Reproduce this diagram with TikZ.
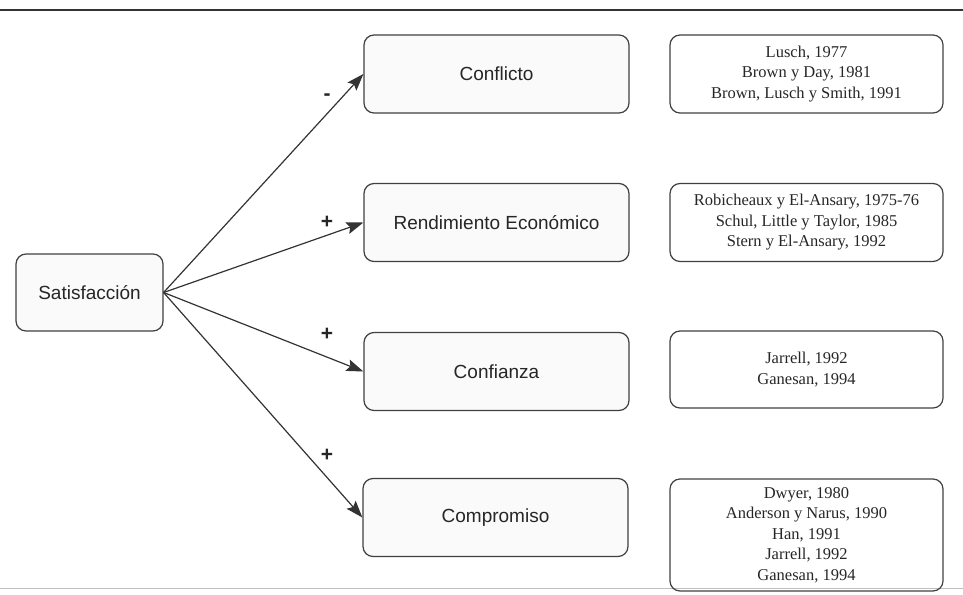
\documentclass[tikz,border=0pt]{standalone}
\usepackage{fontspec}
\setmainfont{Liberation Serif}
\setsansfont{Liberation Sans}
\usetikzlibrary{arrows.meta,positioning}

\begin{document}
\begin{tikzpicture}[x=1pt,y=-1pt,->,>={Stealth[length=17pt,width=12pt,inset=3pt]}]
  \tikzstyle{concept}=[draw=black!75,line width=1.2pt,rounded corners=10pt,fill=blue!1!black!2,text=black!85,minimum width=265pt,minimum height=78pt,font=\sffamily\fontsize{19}{22}\selectfont]
  \tikzstyle{refs}=[draw=black!75,line width=1.2pt,rounded corners=10pt,text=black!85,align=center,minimum width=273pt,minimum height=78pt,font=\fontsize{16.5}{20.5}\selectfont]
  \tikzstyle{sign}=[text=black!85,font=\sffamily\bfseries\fontsize{21}{22}\selectfont]
  \useasboundingbox (0,0) rectangle (963,594);
  \draw[-,line width=2.6pt,black!80] (0,10) -- (963,10);
  \draw[-,line width=0.8pt,black!25] (0,588) -- (963,588);
  % source
  \node[concept,minimum width=147pt,minimum height=77pt] (sat) at (89.5,292.5) {Satisfacción};
  % effects
  \node[concept] (conf) at (496.5,74) {Conflicto};
  \node[concept] (rend) at (496.5,222.5) {Rendimiento Económico};
  \node[concept] (trust) at (496.5,371.5) {Confianza};
  \node[concept] (comp) at (495.5,517.5) {Compromiso};
  % references
  \node[refs] (rconf) at (806.5,74) {Lusch, 1977\\Brown y Day, 1981\\Brown, Lusch y Smith, 1991};
  \node[refs] (rrend) at (806.5,222.5) {Robicheaux y El-Ansary, 1975-76\\Schul, Little y Taylor, 1985\\Stern y El-Ansary, 1992};
  \node[refs,minimum height=77pt] (rtrust) at (806.5,369.5) {Jarrell, 1992\\Ganesan, 1994};
  \node[refs,minimum height=112pt] (rcomp) at (806.5,535) {Dwyer, 1980\\Anderson y Narus, 1990\\Han, 1991\\Jarrell, 1992\\Ganesan, 1994};
  % links
  \draw[line width=1.2pt,black!80] (sat.east) -- (conf.west);
  \draw[line width=1.2pt,black!80] (sat.east) -- (rend.west);
  \draw[line width=1.2pt,black!80] (sat.east) -- (trust.west);
  \draw[line width=1.2pt,black!80] (sat.east) -- (comp.west);
  \node[sign] (sconf) at (327,97) {-};
  \node[sign] (srend) at (327,222) {+};
  \node[sign] (strust) at (327,334) {+};
  \node[sign] (scomp) at (327,455) {+};
\end{tikzpicture}
\end{document}
